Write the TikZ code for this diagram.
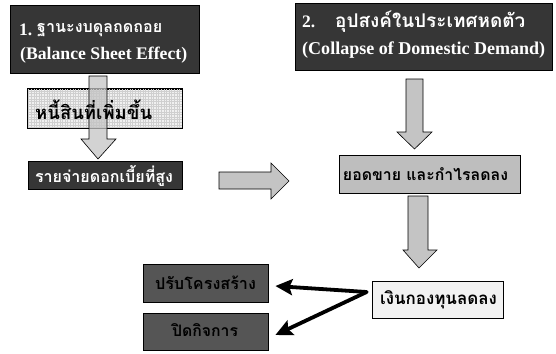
\documentclass[tikz,border=0pt]{standalone}
\usepackage{fontspec}
\usepackage{graphicx}
\setmainfont{Liberation Serif}
\newfontfamily\thai[Script=Thai]{Loma}
\usetikzlibrary{arrows.meta}
\definecolor{darkbox}{HTML}{363636}
\definecolor{midbox}{HTML}{555555}
\definecolor{arrowgray}{HTML}{C4C4C4}
\definecolor{salesgray}{HTML}{BEBEBE}
\definecolor{lightbox}{HTML}{F2F2F2}
\definecolor{gridbg}{HTML}{F0F0F0}
\newcommand\engw[2]{\resizebox{#1pt}{!}{\bfseries #2}}
\newcommand\thaiw[2]{\resizebox{#1pt}{!}{\thai\bfseries #2}}
\newcommand\numfont{\bfseries\fontsize{17.5}{20}\selectfont}
\begin{document}
\begin{tikzpicture}[x=1pt,y=-1pt,
  box/.style={draw=black,line width=0.8pt,inner sep=0pt,rectangle},
  darkb/.style={box,fill=darkbox,text=white},
  midb/.style={box,fill=midbox,text=black},
  blockarrow/.style={draw=black,line width=0.6pt,fill=arrowgray},
  txt/.style={inner sep=0pt},
  bigarrow/.style={line width=3.8pt,-{Stealth[length=17pt,width=16pt,inset=3pt]}}
]
\useasboundingbox (0,0) rectangle (556,353);
% boxes
\node[darkb,minimum width=189pt,minimum height=68pt] (b1) at (104.5,39) {};
\node[darkb,minimum width=257pt,minimum height=67pt] (b2) at (423.5,36.5) {};
\node[box,fill=gridbg,minimum width=154pt,minimum height=39pt] (debt) at (105,108.5) {};
\begin{scope}
\clip (debt.north west) rectangle (debt.south east);
\draw[gray!38,line width=0.25pt,step=2.6pt] (debt.north west) grid (debt.south east);
\end{scope}
\draw[line width=0.8pt] (debt.north west) rectangle (debt.south east);
\node[darkb,minimum width=154pt,minimum height=28pt] (intr) at (105,175) {};
\node[box,fill=salesgray,minimum width=181pt,minimum height=38pt] (sales) at (429.5,174) {};
\node[box,fill=lightbox,minimum width=131pt,minimum height=37pt] (fund) at (437.5,299.5) {};
\node[midb,minimum width=125pt,minimum height=38pt] (restr) at (205.5,283) {};
\node[midb,minimum width=125pt,minimum height=37pt] (close) at (205.5,331.5) {};
% block arrows
\draw[blockarrow,fill opacity=0.75] (89,76) -- (107,76) -- (107,139) -- (116,139) -- (98,159) -- (81,139) -- (89,139) -- cycle;
\draw[blockarrow] (406,79) -- (423,79) -- (423,132) -- (432,132) -- (414.5,149) -- (397,132) -- (406,132) -- cycle;
\draw[blockarrow] (408,196) -- (428,196) -- (428,250) -- (437,250) -- (419,268) -- (403,250) -- (408,250) -- cycle;
\draw[blockarrow] (219,172) -- (271,172) -- (271,163) -- (289,181) -- (271,199) -- (271,189) -- (219,189) -- cycle;
% texts
\node[txt,anchor=west,text=white,font=\numfont] (t1n) at (19,30) {1.};
\node[txt,anchor=west,text=white] (t1a) at (37,30) {\thaiw{125}{ฐานะงบดุลถดถอย}};
\node[txt,anchor=west,text=white] (t1b) at (20,55.5) {\engw{167}{(Balance Sheet Effect)}};
\node[txt,anchor=west,text=white,font=\numfont] (t2n) at (302,22) {2.};
\node[txt,anchor=west,text=white] (t2a) at (335,22) {\thaiw{190}{อุปสงค์ในประเทศหดตัว}};
\node[txt,anchor=west,text=white] (t2b) at (302,50) {\engw{243}{(Collapse of Domestic Demand)}};
\node[txt,anchor=west] (tdebt) at (35,110) {\thaiw{117}{หนี้สินที่เพิ่มขึ้น}};
\node[txt,text=white] (tintr) at (104,176) {\thaiw{138}{รายจ่ายดอกเบี้ยที่สูง}};
\node[txt] (tsales) at (425.5,174) {\thaiw{165}{ยอดขาย และกำไรลดลง}};
\node[txt] (tfund) at (438.5,300) {\thaiw{117}{เงินกองทุนลดลง}};
\node[txt] (trestr) at (205.5,283) {\thaiw{101}{ปรับโครงสร้าง}};
\node[txt] (tclose) at (205,330) {\thaiw{66}{ปิดกิจการ}};
% black arrows
\coordinate (split) at ([xshift=-5pt,yshift=7.5pt]fund.west);
\draw[bigarrow,line cap=round] (split) -- ([xshift=7pt,yshift=-3pt]restr.east);
\draw[bigarrow,line cap=round] (split) -- ([xshift=7pt,yshift=-3.5pt]close.east);
\end{tikzpicture}
\end{document}
